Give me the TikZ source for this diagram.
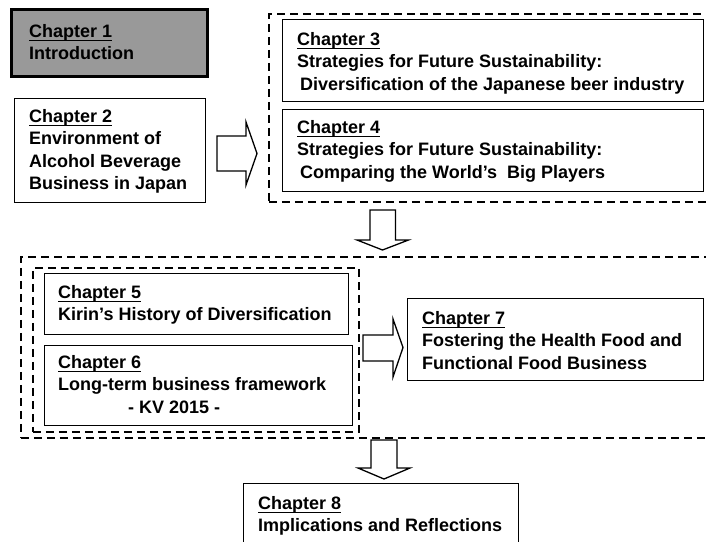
\documentclass[tikz,border=0pt]{standalone}
\usepackage{fontspec}
\setmainfont{Liberation Sans}
\usetikzlibrary{calc}
\newcommand\chul[1]{\setbox0\hbox{#1}\rlap{\rule[-3.6pt]{\wd0}{1.3pt}}\box0}
\begin{document}
\begin{tikzpicture}[x=1pt,y=-1pt,
  box/.style={draw, line width=1.3pt, anchor=north west, inner sep=0pt, fill=white},
  grp/.style={draw, line width=1.8pt, dash pattern=on 8pt off 5pt, anchor=north west, inner sep=0pt},
  txt/.style={anchor=north west, inner sep=0pt, align=left, font=\fontsize{18}{22.5}\selectfont\bfseries},
  blk/.style={draw, line width=1.3pt, fill=white, line join=miter}]
\clip (0,0) rectangle (706,541);
\fill[white] (0,0) rectangle (706,541);
% dashed groups
\node[grp, minimum width=460pt, minimum height=188pt] (g1) at (268,13) {};
\node[grp, minimum width=710pt, minimum height=181pt] (g2) at (20,256) {};
\node[grp, minimum width=326pt, minimum height=164pt] (g3) at (32,267) {};
% boxes
\node[box, line width=3pt, fill=black!40, minimum width=196pt, minimum height=67pt] (ch1) at (10,8) {};
\node[box, minimum width=191pt, minimum height=104pt] (ch2) at (14,98) {};
\node[box, minimum width=421pt, minimum height=82pt] (ch3) at (282,19) {};
\node[box, minimum width=421pt, minimum height=82pt] (ch4) at (282,109) {};
\node[box, minimum width=304pt, minimum height=61pt] (ch5) at (44,273) {};
\node[box, minimum width=308pt, minimum height=80pt] (ch6) at (44,345) {};
\node[box, minimum width=296pt, minimum height=82pt] (ch7) at (407,298) {};
\node[box, minimum width=275pt, minimum height=80pt] (ch8) at (243,483) {};
% texts
\node[txt] (t1) at (29,24) {\chul{Chapter 1}\\Introduction};
\node[txt] (t2) at (29,109) {\chul{Chapter 2}\\Environment of\\Alcohol Beverage\\Business in Japan};
\node[txt] (t3) at (297,32) {\chul{Chapter 3}\\Strategies for Future Sustainability:\\\hspace*{3pt}Diversification of the Japanese beer industry};
\node[txt] (t4) at (297,120) {\chul{Chapter 4}\\Strategies for Future Sustainability:\\\hspace*{3pt}Comparing the World’s\hspace{0.55em}Big Players};
\node[txt] (t5) at (58,285) {\chul{Chapter 5}\\Kirin’s History of Diversification};
\node[txt] (t6) at (58,355) {\chul{Chapter 6}\\Long-term business framework\\\hspace*{70pt}- KV 2015 -};
\node[txt] (t7) at (422,311) {\chul{Chapter 7}\\Fostering the Health Food and\\Functional Food Business};
\node[txt] (t8) at (258,496) {\chul{Chapter 8}\\Implications and Reflections};
% block arrows
\coordinate (a1) at (217,153.5);
\draw[blk] (a1) ++(0,-17.5) -- ++(29,0) -- ++(0,-14) -- ++(11,31.5) -- ++(-11,31.5) -- ++(0,-14) -- ++(-29,0) -- cycle;
\coordinate (a2) at (382.5,210);
\draw[blk] (a2) ++(-12.5,0) -- ++(0,30) -- ++(-13,0) -- ++(25.5,10) -- ++(26,-10) -- ++(-13,0) -- ++(0,-30) -- cycle;
\coordinate (a3) at (363,347.5);
\draw[blk] (a3) ++(0,-12.5) -- ++(30,0) -- ++(0,-16) -- ++(10,28.5) -- ++(-10,29.5) -- ++(0,-16) -- ++(-30,0) -- cycle;
\coordinate (a4) at (384,440);
\draw[blk] (a4) ++(-13,0) -- ++(0,28) -- ++(-13,0) -- ++(26,11) -- ++(26,-11) -- ++(-13,0) -- ++(0,-28) -- cycle;
\end{tikzpicture}
\end{document}
